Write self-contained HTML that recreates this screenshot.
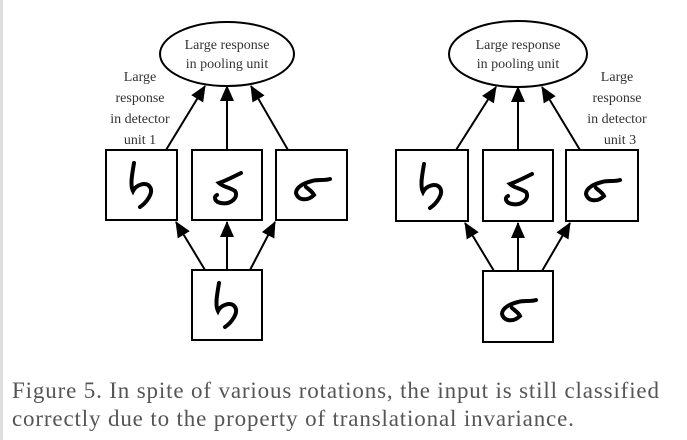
<!DOCTYPE html>
<html><head><style>
html,body{margin:0;padding:0;background:#fff;}
body{width:687px;height:440px;position:relative;overflow:hidden;}
.bar{position:absolute;left:0;top:0;width:3px;height:440px;background:#ddd;}
.cap{position:absolute;left:12px;top:377px;font-family:"Liberation Serif",serif;font-size:23px;line-height:28px;color:#555;letter-spacing:0.85px;white-space:nowrap;}
svg text{font-family:"Liberation Serif",serif;font-size:14px;fill:#333;}
</style></head><body>
<div class="bar"></div>
<svg width="687" height="360" style="position:absolute;left:0;top:0">
<defs>
<marker id="a" markerWidth="16" markerHeight="14" refX="15" refY="7" orient="auto" markerUnits="userSpaceOnUse">
<path d="M0,0 L16,7 L0,14 Z" fill="#000"/></marker>
<g id="d6"><path d="M-8,-22 C-10,-10 -12,0 -9,6 C-6,0 4,-4 8,2 C12,8 4,18 -2,22" fill="none" stroke="#000" stroke-width="4" stroke-linecap="round"/></g>
<g id="d5"><path d="M14,-14 C6,-10 -2,-6 -8,-4 C-4,0 2,0 8,4 C12,10 4,18 -6,16 C-12,15 -14,10 -10,8" fill="none" stroke="#000" stroke-width="4" stroke-linecap="round"/></g>
<g id="d5r"><path d="M0,-6 C6,-8 12,-6 18,-8 M0,-6 C-8,-4 -16,0 -16,6 C-14,14 -4,14 2,8 C0,4 -4,2 -6,0" fill="none" stroke="#000" stroke-width="4" stroke-linecap="round"/></g>
</defs>
<g stroke="#000" stroke-width="2" fill="#fff">
<ellipse cx="227" cy="54" rx="67" ry="32"/>
<rect x="106" y="150" width="71" height="70"/>
<rect x="192" y="150" width="70" height="70"/>
<rect x="276" y="150" width="71" height="70"/>
<rect x="192" y="270" width="70" height="70"/>
<ellipse cx="518" cy="54" rx="69" ry="33"/>
<rect x="396" y="150" width="72" height="71"/>
<rect x="483" y="150" width="70" height="71"/>
<rect x="566" y="150" width="72" height="71"/>
<rect x="483" y="271" width="70" height="71"/>
</g>
<g stroke="#000" stroke-width="2" marker-end="url(#a)">
<line x1="166" y1="150" x2="205" y2="86"/>
<line x1="227" y1="150" x2="227" y2="86"/>
<line x1="288" y1="150" x2="251" y2="86"/>
<line x1="205" y1="270" x2="176" y2="222"/>
<line x1="227" y1="270" x2="227" y2="222"/>
<line x1="250" y1="270" x2="275" y2="222"/>
<line x1="456" y1="150" x2="496" y2="87"/>
<line x1="518" y1="150" x2="518" y2="87"/>
<line x1="580" y1="150" x2="542" y2="87"/>
<line x1="494" y1="271" x2="465" y2="223"/>
<line x1="518" y1="271" x2="518" y2="223"/>
<line x1="542" y1="271" x2="570" y2="223"/>
</g>
<use href="#d6" x="142" y="185"/>
<use href="#d5" x="227" y="187"/>
<use href="#d5r" x="312" y="187"/>
<use href="#d6" x="227" y="305"/>
<use href="#d6" x="432" y="186"/>
<use href="#d5" x="518" y="188"/>
<use href="#d5r" x="602" y="188"/>
<use href="#d5r" x="518" y="308"/>
<g text-anchor="middle">
<text x="227" y="49">Large response</text><text x="227" y="68">in pooling unit</text>
<text x="518" y="49">Large response</text><text x="518" y="68">in pooling unit</text>
<text x="140" y="81">Large</text><text x="140" y="102">response</text><text x="140" y="123">in detector</text><text x="140" y="144">unit 1</text>
<text x="617" y="81">Large</text><text x="617" y="102">response</text><text x="617" y="123">in detector</text><text x="620" y="144">unit 3</text>
</g>
</svg>
<div class="cap">Figure 5. In spite of various rotations, the input is still classified<br>correctly due to the property of translational invariance.</div>
</body></html>
